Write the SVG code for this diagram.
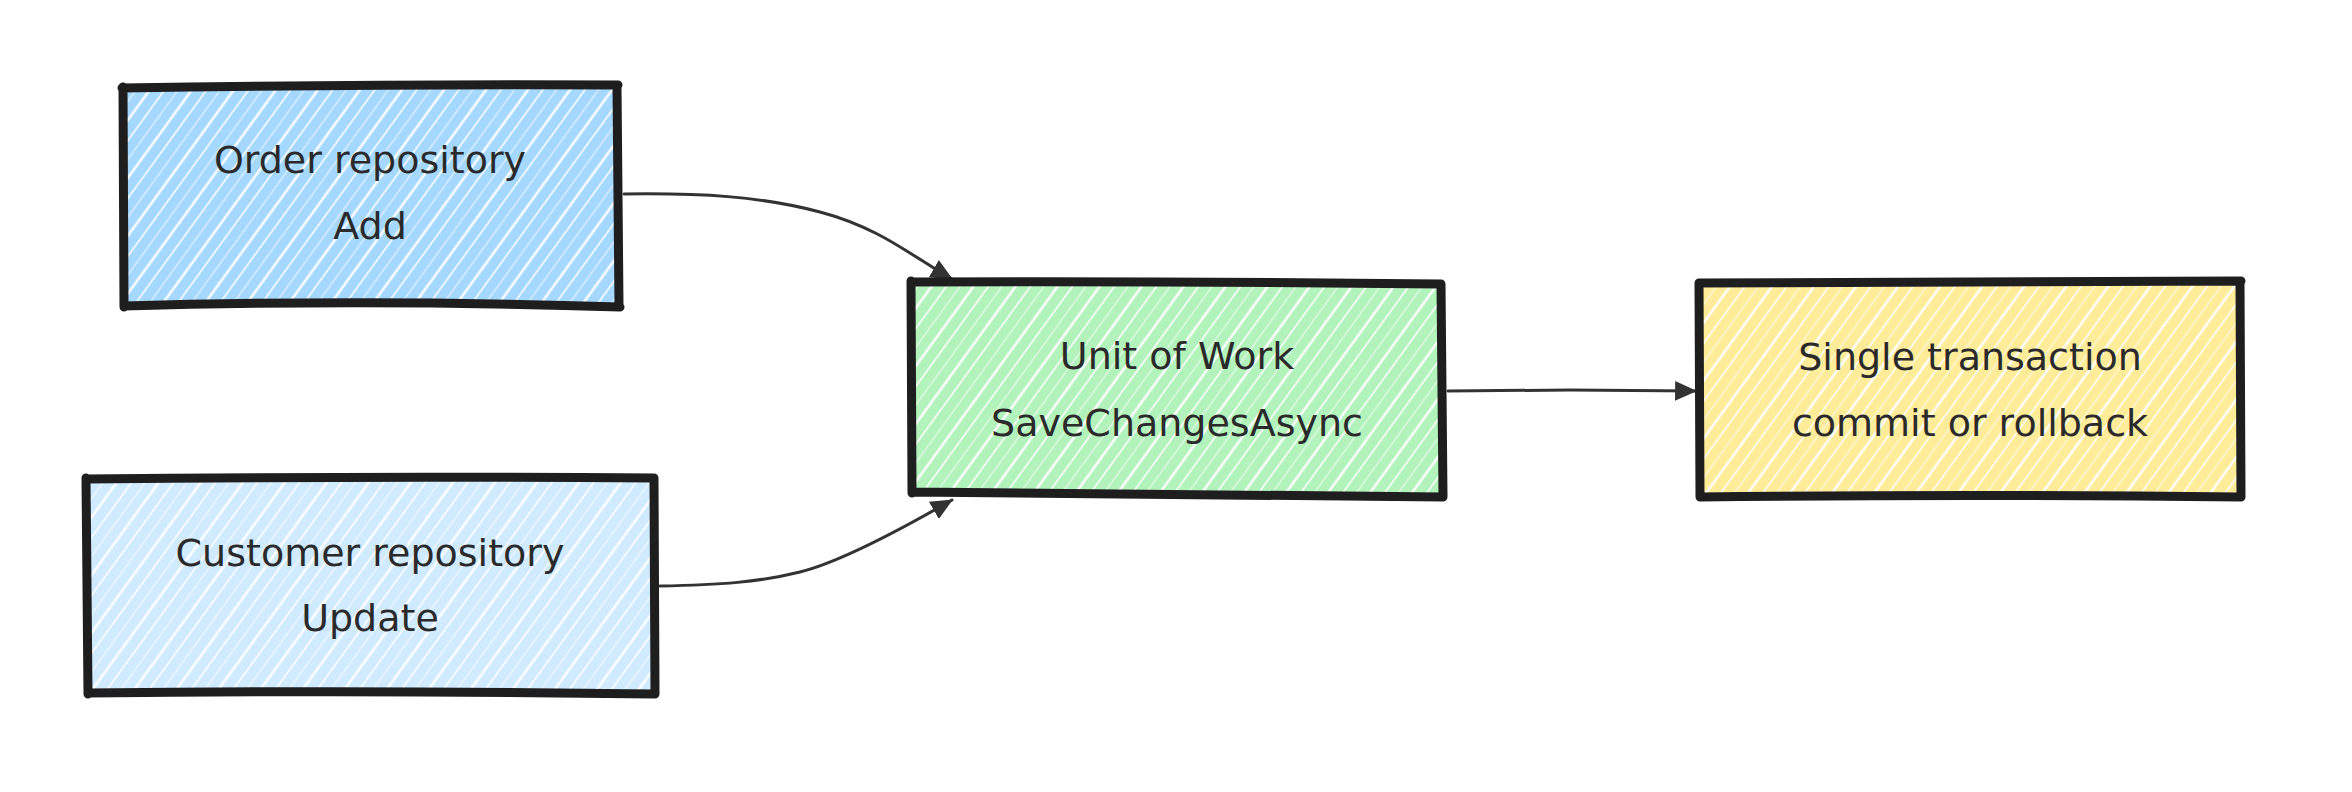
<svg xmlns="http://www.w3.org/2000/svg" width="2352" height="792" viewBox="0 0 2352 792">
<style>
.box{stroke:#1e1e1e;stroke-width:9;fill:none;stroke-linecap:round;stroke-linejoin:round}
.hatch{fill:url(#hatch)}
.lbl{font-family:"DejaVu Sans",sans-serif;font-size:38px;fill:#2a2a2a;text-anchor:middle}
.edge{stroke:#333;stroke-width:3;fill:none;stroke-linecap:round}
</style>
<defs>
<pattern id="hatch" patternUnits="userSpaceOnUse" width="34" height="40" patternTransform="rotate(36)">
<line x1="4" y1="-1" x2="4" y2="41" stroke="#ffffff" stroke-width="2.6" stroke-opacity="0.95"/>
<line x1="16" y1="-1" x2="16" y2="41" stroke="#ffffff" stroke-width="1.8" stroke-opacity="0.85"/>
<line x1="27" y1="-1" x2="27" y2="41" stroke="#ffffff" stroke-width="1.4" stroke-opacity="0.6"/>
</pattern>
<marker id="ah" viewBox="0 0 20 20" refX="19" refY="10" markerWidth="22" markerHeight="22" orient="auto" markerUnits="userSpaceOnUse">
<path d="M0,1 L20,10 L0,19 z" fill="#333"/>
</marker>
</defs>

<g id="edges">
<path class="edge" d="M624 194 C 700 193, 760 196, 820 212 S 910 255, 952 279" marker-end="url(#ah)"/>
<path class="edge" d="M660 586 C 720 585, 760 582, 800 572 S 900 530, 952 500" marker-end="url(#ah)"/>
<path class="edge" d="M1448 391 L1570 390 L1696 391" marker-end="url(#ah)"/>
</g>

<g id="order">
<rect x="123" y="88" width="495" height="219" fill="#a5d8ff"/>
<rect x="123" y="88" width="495" height="219" class="hatch"/>
<path class="box" d="M122 88 Q 370 84 618 85 M617 86 L619 306 M620 307 Q 370 299 124 306 M124 307 L123 87"/>
<text class="lbl" x="370" y="173">Order repository</text>
<text class="lbl" x="370" y="239">Add</text>
</g>

<g id="customer">
<rect x="87" y="479" width="568" height="214" fill="#d0ebff"/>
<rect x="87" y="479" width="568" height="214" class="hatch"/>
<path class="box" d="M86 479 Q 370 476 654 478 M654 479 L655 694 M655 694 Q 370 690 88 693 M88 694 L86 478"/>
<text class="lbl" x="370" y="566">Customer repository</text>
<text class="lbl" x="370" y="631">Update</text>
</g>

<g id="uow">
<rect x="912" y="282" width="530" height="214" fill="#b2f2bb"/>
<rect x="912" y="282" width="530" height="214" class="hatch"/>
<path class="box" d="M911 282 Q 1176 281 1441 284 M1441 284 L1443 497 M1443 497 Q 1176 495 912 492 M912 493 L911 281"/>
<text class="lbl" x="1177" y="369">Unit of Work</text>
<text class="lbl" x="1177" y="436">SaveChangesAsync</text>
</g>

<g id="tx">
<rect x="1700" y="283" width="540" height="213" fill="#ffec99"/>
<rect x="1700" y="283" width="540" height="213" class="hatch"/>
<path class="box" d="M1699 283 Q 1970 281 2241 281 M2240 282 L2241 497 M2241 497 Q 1970 494 1701 497 M1700 497 L1699 283"/>
<text class="lbl" x="1970" y="370">Single transaction</text>
<text class="lbl" x="1970" y="436">commit or rollback</text>
</g>
</svg>
